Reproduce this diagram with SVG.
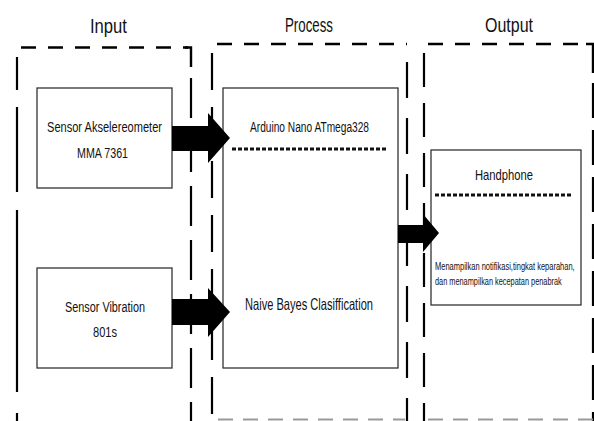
<svg xmlns="http://www.w3.org/2000/svg" width="594" height="421" viewBox="0 0 594 421">
<style>
.t{font-family:"Liberation Sans Narrow","Liberation Sans",Arial,sans-serif;fill:#111;text-anchor:start}
.h{stroke:#000;stroke-width:2.6;stroke-dasharray:15 12;fill:none}
.v{stroke:#000;stroke-width:2.2;stroke-dasharray:34 16;fill:none}
.g{stroke:#999;stroke-width:2;stroke-dasharray:15 10;fill:none}
.box{fill:#fff;stroke:#333;stroke-width:1.3}
.dot{stroke:#111;stroke-width:3;stroke-dasharray:4 2;fill:none}
.arr{fill:#000}
</style>
<rect width="594" height="421" fill="#fff"/>
<g id="panels">
  <!-- Input -->
  <text class="t" x="90" y="33" font-size="21" textLength="37" lengthAdjust="spacingAndGlyphs">Input</text>
  <line class="h" x1="21" y1="47.5" x2="188" y2="47.5"/>
  <path d="M185 47.5 H191 V67" stroke="#000" stroke-width="2.4" fill="none"/>
  <line class="v" x1="191" y1="78" x2="191" y2="421" style="stroke-dasharray:40 14"/>
  <line class="v" x1="17" y1="57" x2="17" y2="421" style="stroke-dasharray:33 17 85 18 182 21 20"/>
  <!-- Process -->
  <text class="t" x="285" y="32" font-size="21" textLength="48" lengthAdjust="spacingAndGlyphs">Process</text>
  <line class="h" x1="217" y1="44" x2="407" y2="44"/>
  <line class="v" x1="212" y1="53" x2="212" y2="421" style="stroke-dasharray:37 17"/>
  <line class="v" x1="407" y1="62" x2="407" y2="421" style="stroke-dasharray:36 20"/>
  <line class="g" x1="218" y1="419.5" x2="405" y2="419.5"/>
  <!-- Output -->
  <text class="t" x="485" y="32" font-size="21" textLength="48" lengthAdjust="spacingAndGlyphs">Output</text>
  <line class="h" x1="428" y1="44" x2="588" y2="44"/>
  <path d="M586 44 H593 V73" stroke="#000" stroke-width="2.4" fill="none"/>
  <line class="v" x1="593" y1="83" x2="593" y2="421" style="stroke-dasharray:35 12"/>
  <line class="v" x1="424" y1="53" x2="424" y2="421" style="stroke-dasharray:34 16"/>
  <line class="g" x1="428" y1="419.5" x2="594" y2="419.5"/>
</g>
<g id="sensor-akselerometer">
  <rect class="box" x="37" y="88" width="135" height="100"/>
  <text class="t" x="47" y="132" font-size="14" textLength="115" lengthAdjust="spacingAndGlyphs">Sensor Akselereometer</text>
  <text class="t" x="77" y="158" font-size="14" textLength="51" lengthAdjust="spacingAndGlyphs">MMA 7361</text>
</g>
<g id="sensor-vibration">
  <rect class="box" x="37" y="268" width="135" height="100"/>
  <text class="t" x="65" y="312" font-size="14" textLength="80" lengthAdjust="spacingAndGlyphs">Sensor Vibration</text>
  <text class="t" x="93" y="337" font-size="14" textLength="24" lengthAdjust="spacingAndGlyphs">801s</text>
</g>
<g id="process">
  <rect class="box" x="223" y="88" width="175" height="280"/>
  <text class="t" x="250" y="132" font-size="14" textLength="119" lengthAdjust="spacingAndGlyphs">Arduino Nano ATmega328</text>
  <line class="dot" x1="232" y1="149" x2="387" y2="149"/>
  <text class="t" x="245" y="310" font-size="16.5" textLength="128" lengthAdjust="spacingAndGlyphs">Naive Bayes Clasiffication</text>
</g>
<g id="handphone">
  <rect class="box" x="431" y="150" width="150" height="155"/>
  <text class="t" x="475" y="180" font-size="15" textLength="58" lengthAdjust="spacingAndGlyphs">Handphone</text>
  <line class="dot" x1="435" y1="195" x2="573" y2="195"/>
  <g transform="translate(435 0) scale(0.72 1)">
    <text class="t" x="0" y="270" font-size="10" textLength="194" lengthAdjust="spacingAndGlyphs">Menampilkan notifikasi,tingkat keparahan,</text>
    <text class="t" x="0" y="285" font-size="10" textLength="176" lengthAdjust="spacingAndGlyphs">dan menampilkan kecepatan penabrak</text>
  </g>
</g>
<g id="connectors">
  <polygon class="arr" points="172,126 208,126 208,113 230,138 208,163 208,151 172,151"/>
  <polygon class="arr" points="172,299 208,299 208,288 230,312 208,337 208,325 172,325"/>
  <polygon class="arr" points="398,225 423,225 423,214 439,233 423,252 423,243 398,243"/>
</g>
</svg>
